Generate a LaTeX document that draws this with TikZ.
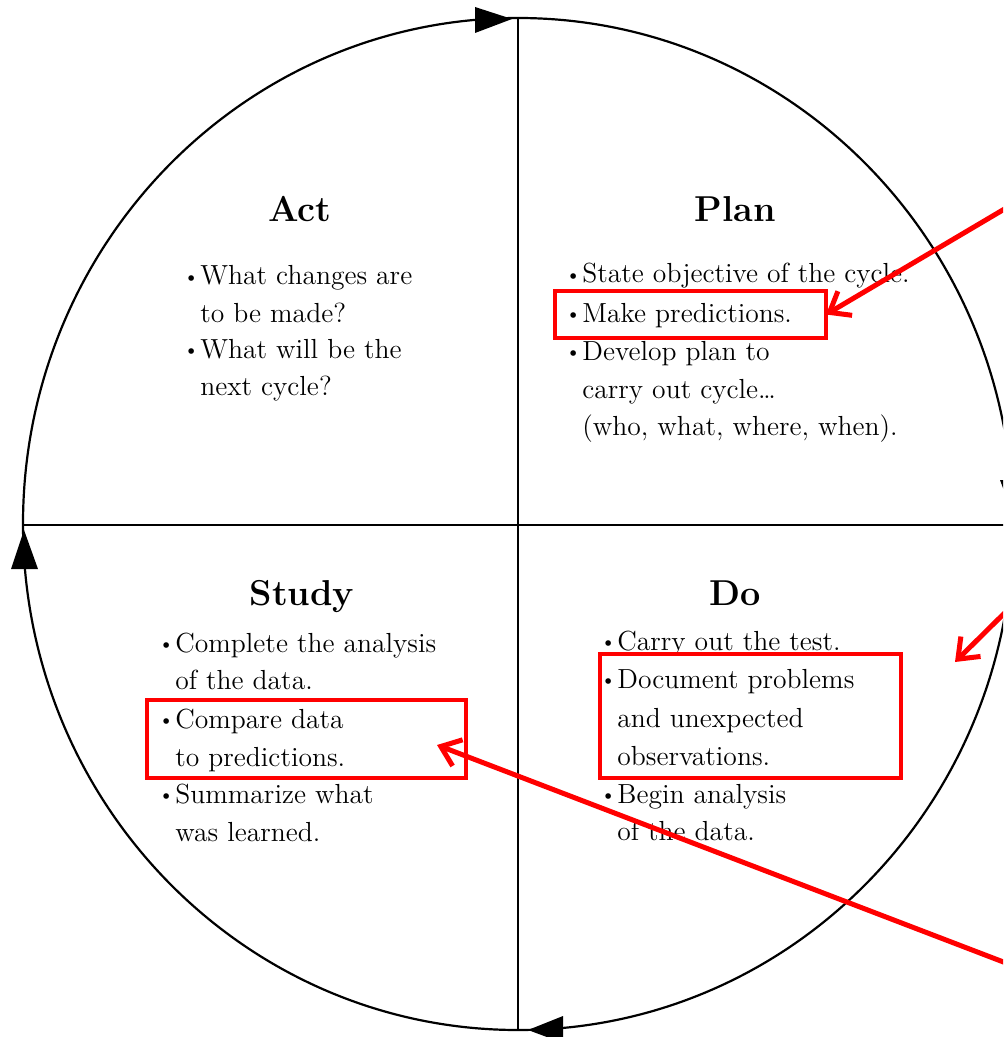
\documentclass[tikz,border=0pt]{standalone}
\usepackage{graphicx}
\usetikzlibrary{arrows.meta}
\newcommand\bu{\makebox[0pt][r]{\raisebox{0.1ex}{\scalebox{0.75}{\textbullet}}\kern0.6pt}}
\begin{document}
\begin{tikzpicture}[x=0.5pt,y=-0.5pt,
  txt/.style={anchor=base west,inner sep=0pt,font=\fontsize{13.8}{16}\selectfont},
  ttl/.style={anchor=base,inner sep=0pt,font=\fontsize{18}{20}\selectfont\bfseries},
  hl/.style={draw=red,line width=2pt,inner sep=0pt,outer sep=0pt},
  callout/.style={draw=red,line width=2.5pt,-{Straight Barb[length=9pt,width=14pt]}},
  head/.style={fill=black},
  ring/.style={line width=1.1pt}]
\clip (0,0) rectangle (1003,1037);
\fill[white] (0,0) rectangle (1003,1037);
% cycle
\draw[ring] (518,524) ellipse [x radius=247.5pt, y radius=253pt];
\draw[line width=0.9pt] (518,18) -- (518,1030);
\draw[line width=0.9pt] (23,525) -- (1015,525);
\fill[head] (512,19) -- (475,7) -- (475,33) -- cycle;
\fill[head] (528,1030) -- (563,1016) -- (563,1043) -- cycle;
\fill[head] (24,530) -- (11,569) -- (38,569) -- cycle;
\fill[head] (1013,515) -- (1000,480) -- (1027,480) -- cycle;
% titles
\node[ttl] (tact) at (300,222) {Act};
\node[ttl] (tplan) at (735,222) {Plan};
\node[ttl] (tstudy) at (302,605) {Study};
\node[ttl] (tdo) at (735,605) {Do};
% Act
\node[txt] (a1) at (200,285) {\bu What changes are};
\node[txt] (a2) at (200,322) {to be made?};
\node[txt] (a3) at (200,358) {\bu What will be the};
\node[txt] (a4) at (200,395) {next cycle?};
% Plan
\node[txt] (p1) at (582,283) {\bu State objective of the cycle.};
\node[txt] (p2) at (582,322) {\bu Make predictions.};
\node[txt] (p3) at (582,360) {\bu Develop plan to};
\node[txt] (p4) at (582,398) {carry out cycle\dots};
\node[txt] (p5) at (582,435) {(who, what, where, when).};
% Study
\node[txt] (s1) at (175,652) {\bu Complete the analysis};
\node[txt] (s2) at (175,689) {of the data.};
\node[txt] (s3) at (175,728) {\bu Compare data};
\node[txt] (s4) at (175,766) {to predictions.};
\node[txt] (s5) at (175,803) {\bu Summarize what};
\node[txt] (s6) at (175,841) {was learned.};
% Do
\node[txt] (d1) at (617,650) {\bu Carry out the test.};
\node[txt] (d2) at (617,688) {\bu Document problems};
\node[txt] (d3) at (617,727) {and unexpected};
\node[txt] (d4) at (617,765) {observations.};
\node[txt] (d5) at (617,803) {\bu Begin analysis};
\node[txt] (d6) at (617,840) {of the data.};
% highlight boxes
\node[hl,minimum width=135.5pt,minimum height=23.5pt] (b1) at (690.5,314.5) {};
\node[hl,minimum width=150.5pt,minimum height=62pt] (b2) at (750.5,716) {};
\node[hl,minimum width=159.5pt,minimum height=39pt] (b3) at (306.5,739) {};
% callout arrows
\coordinate (c1) at (1040,188);
\coordinate (c2) at (1040,578);
\coordinate (e2) at (955,662);
\coordinate (c3) at (1040,976);
\coordinate (e3) at (437,745);
\draw[callout] (c1) -- (b1.east);
\draw[callout] (c2) -- (e2);
\draw[callout] (c3) -- (e3);
\end{tikzpicture}
\end{document}
